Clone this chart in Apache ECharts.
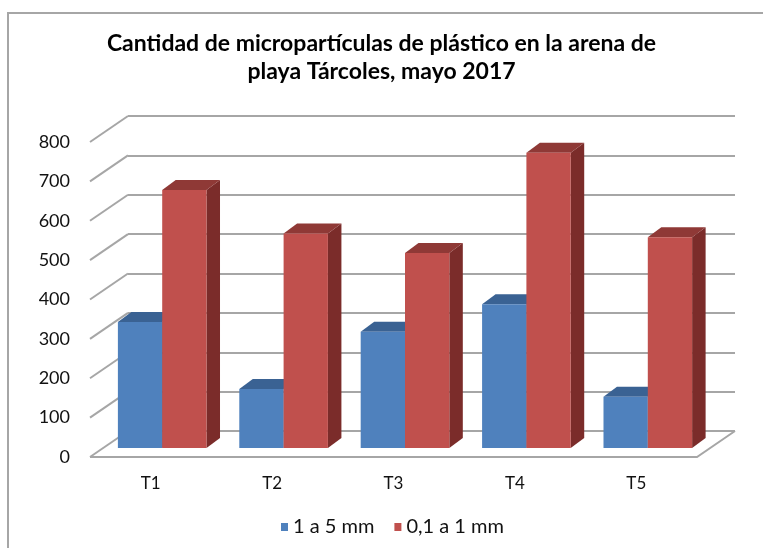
<!doctype html>
<html>
<head>
    <meta charset="utf-8">
    <title>Cantidad de micropartículas de plástico</title>
    <style>
        html, body { margin: 0; padding: 0; background: #fff; }
        #chartEle { width: 763px; height: 548px; }
    </style>
</head>
<body>
<div id="chartEle"></div>
<script src="https://cdn.jsdelivr.net/npm/echarts@6/dist/echarts.min.js"></script>
<script>
    // datos
    var categories = ['T1', 'T2', 'T3', 'T4', 'T5'];
    var seriesNames = ['1 a 5 mm', '0,1 a 1 mm'];
    var gruesas = [320, 150, 295, 365, 130];
    var finas = [655, 545, 495, 750, 535];
    var yTicks = [0, 100, 200, 300, 400, 500, 600, 700, 800];

    var FONT = 'Lato';
    // profundidad del "3D": pared trasera y barras
    var DX = 38, DY = 26;
    var BAR_OX = 11.5, BAR_OY = 9, BAR_DX = 13.5, BAR_DY = 10;

    var colores = [
        {front: '#4f81bd', side: '#2f5383', top: '#3a6293'},
        {front: '#c0504d', side: '#7b2c2a', top: '#8f3936'}
    ];

    var myChart = echarts.init(document.getElementById('chartEle'));

    // paredes: lineas inclinadas de la pared izquierda y el piso
    function renderWalls(params, api) {
        var cs = params.coordSys;
        var v = api.value(1);
        var y = api.coord([0, v])[1];
        var st = {stroke: '#a6a6a6', lineWidth: 2};
        var kids = [{
            type: 'line',
            shape: {x1: cs.x, y1: y, x2: cs.x + DX, y2: y - DY},
            style: st
        }];
        if (v === 0) {
            kids.push({
                type: 'polyline',
                shape: {points: [[cs.x, y], [cs.x + cs.width, y], [cs.x + cs.width + DX, y - DY]]},
                style: {stroke: '#a6a6a6', lineWidth: 2, fill: null}
            });
        }
        return {type: 'group', children: kids};
    }

    function barRenderer(idx) {
        return function (params, api) {
            var i = api.value(0);
            var base = api.coord([i, 0]);
            var top = api.coord([i, api.value(1)]);
            var bw = api.size([1, 0])[0] * 0.365;
            var x0 = base[0] + BAR_OX - (idx === 0 ? bw : 0);
            var yb = base[1] - BAR_OY;
            var yt = top[1] - BAR_OY;
            var c = colores[idx];
            return {
                type: 'group',
                children: [{
                    type: 'polygon',
                    shape: {points: [[x0 + bw, yt], [x0 + bw + BAR_DX, yt - BAR_DY], [x0 + bw + BAR_DX, yb - BAR_DY], [x0 + bw, yb]]},
                    style: {fill: c.side}
                }, {
                    type: 'polygon',
                    shape: {points: [[x0, yt], [x0 + BAR_DX, yt - BAR_DY], [x0 + bw + BAR_DX, yt - BAR_DY], [x0 + bw, yt]]},
                    style: {fill: c.top}
                }, {
                    type: 'rect',
                    shape: {x: x0, y: yt, width: bw, height: yb - yt},
                    style: {fill: c.front}
                }]
            };
        };
    }

    var option = {
        backgroundColor: '#fff',
        animation: false,
        title: {
            text: 'Cantidad de micropartículas de plástico en la arena de\nplaya Tárcoles, mayo 2017',
            left: 'center',
            top: 25,
            textStyle: {fontFamily: FONT, fontSize: 23, fontWeight: 'bold', color: '#000', lineHeight: 28}
        },
        legend: {
            data: seriesNames,
            bottom: 6,
            left: 276,
            icon: 'rect',
            itemWidth: 7,
            itemHeight: 8,
            itemGap: 20,
            textStyle: {fontFamily: FONT, fontSize: 20, color: '#111'}
        },
        graphic: [{
            type: 'rect',
            shape: {x: 8, y: 13, width: 800, height: 600},
            style: {fill: null, stroke: '#a6a6a6', lineWidth: 2},
            silent: true
        }],
        grid: [
            {left: 90, right: 66, top: 142, bottom: 91},   // plano frontal
            {left: 128, right: 28, top: 116, bottom: 117}  // pared trasera
        ],
        xAxis: [{
            type: 'category',
            gridIndex: 0,
            data: categories,
            axisLine: {show: false},
            axisTick: {show: false},
            axisLabel: {margin: 18, fontFamily: FONT, fontSize: 17, color: '#111'}
        }, {
            type: 'category',
            gridIndex: 1,
            data: categories,
            show: false
        }],
        yAxis: [{
            type: 'value',
            gridIndex: 0,
            min: 0,
            max: 800,
            interval: 100,
            axisLine: {show: false},
            axisTick: {show: false},
            splitLine: {show: false},
            axisLabel: {margin: 20, fontFamily: FONT, fontSize: 18, color: '#111'}
        }, {
            type: 'value',
            gridIndex: 1,
            min: 0,
            max: 800,
            interval: 100,
            axisLine: {show: false},
            axisTick: {show: false},
            axisLabel: {show: false},
            splitLine: {lineStyle: {color: '#a6a6a6', width: 2}}
        }],
        series: [{
            type: 'custom',
            name: 'paredes',
            xAxisIndex: 0,
            yAxisIndex: 0,
            z: 1,
            silent: true,
            renderItem: renderWalls,
            data: yTicks.map(function (v) { return [0, v]; })
        }, {
            type: 'custom',
            name: seriesNames[0],
            xAxisIndex: 0,
            yAxisIndex: 0,
            z: 3,
            itemStyle: {color: colores[0].front},
            renderItem: barRenderer(0),
            data: gruesas.map(function (v, i) { return [i, v]; })
        }, {
            type: 'custom',
            name: seriesNames[1],
            xAxisIndex: 0,
            yAxisIndex: 0,
            z: 4,
            itemStyle: {color: colores[1].front},
            renderItem: barRenderer(1),
            data: finas.map(function (v, i) { return [i, v]; })
        }]
    };
    myChart.setOption(option);
</script>
</body>
</html>
